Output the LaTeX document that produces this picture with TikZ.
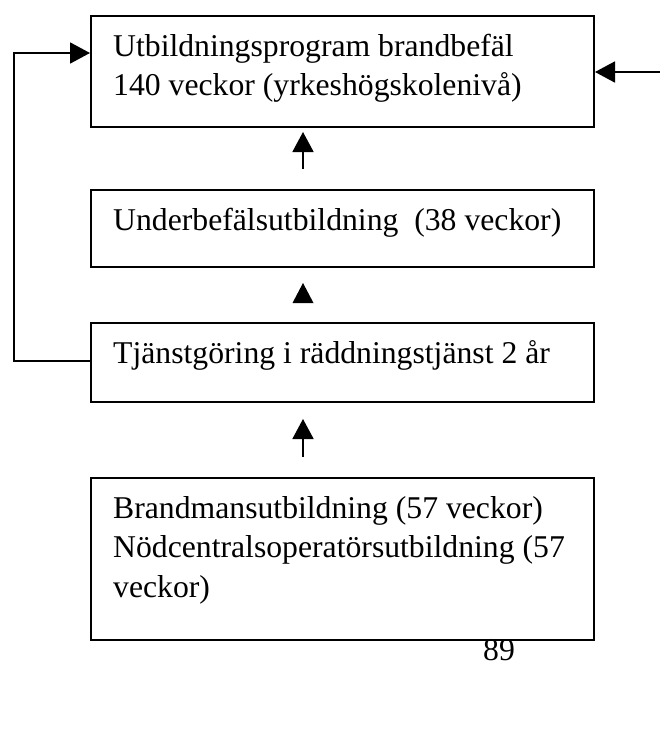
\documentclass[tikz,border=0pt]{standalone}
\usepackage{fontspec}
\setmainfont{Liberation Serif}
\usetikzlibrary{arrows.meta}
\begin{document}
\begin{tikzpicture}[x=1pt,y=-1pt,
  box/.style={draw,line width=2pt,minimum width=503pt,anchor=north west,inner sep=0pt},
  txt/.style={anchor=base west,inner sep=0pt,font=\fontsize{31.7}{38.5}\selectfont},
  link/.style={line width=1.8pt},
  head/.style={-{Triangle[length=20pt,width=21pt]}}]
\useasboundingbox (0,0) rectangle (660,731);
% boxes
\node[box,minimum height=111pt] (b1) at (90,15) {};
\node[box,minimum height=77pt]  (b2) at (90,189) {};
\node[box,minimum height=79pt]  (b3) at (90,322) {};
\node[box,minimum height=162pt] (b4) at (90,477) {};
% box texts
\node[txt] (t1a) at (113,56)  {Utbildningsprogram brandbefäl};
\node[txt] (t1b) at (113,95)  {140 veckor (yrkeshögskolenivå)};
\node[txt] (t2)  at (113,230) {Underbefälsutbildning\ \ (38 veckor)};
\node[txt] (t3)  at (113,363) {Tjänstgöring i räddningstjänst 2 år};
\node[txt] (t4a) at (113,518) {Brandmansutbildning (57 veckor)};
\node[txt] (t4b) at (113,557.5) {Nödcentralsoperatörsutbildning (57};
\node[txt] (t4c) at (113,597) {veckor)};
\node[txt,anchor=base] (pg) at (499,660) {89};
% free ends of the connectors
\coordinate (c1s) at (303,169);
\coordinate (c1e) at (303,132);
\coordinate (c2e) at (303,283);
\coordinate (c3s) at (303,457);
\coordinate (c3e) at (303,419);
\coordinate (rs) at (660,72);
\coordinate (lc) at (14,0);
% vertical arrows between the boxes
\draw[link,head] (c1s) -- (c1e);
\fill (c2e) -- ++(10.5,20) -- ++(-21,0) -- cycle;
\draw[link,head] (c3s) -- (c3e);
% feedback loop from the service box back to the top box
\draw[link,head] (b3.west |- 0,361) -| (lc |- 0,300) |- (b1.west |- 0,53);
% incoming arrow on the right
\draw[link,head] (rs) -- (b1.east |- rs);
\end{tikzpicture}
\end{document}
